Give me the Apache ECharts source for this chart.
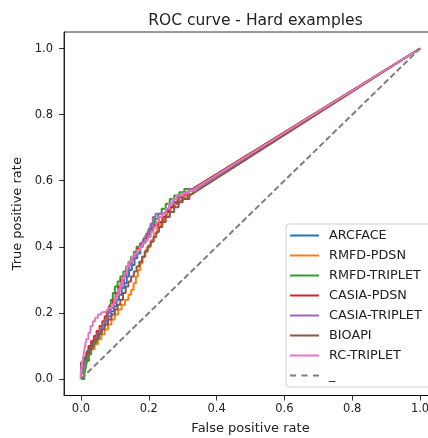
<!DOCTYPE html>
<html><head><meta charset="utf-8">
<script src="https://cdn.jsdelivr.net/npm/echarts@6/dist/echarts.min.js"></script>
<style>html,body{margin:0;padding:0;background:#fff;overflow:hidden;width:428px;height:438px}#c{width:446px;height:438px}</style>
</head><body><div id="c"></div>
<script>
const seriesNames = ['ARCFACE','RMFD-PDSN','RMFD-TRIPLET','CASIA-PDSN','CASIA-TRIPLET','BIOAPI','RC-TRIPLET','_'];
const tickValues = [0, 0.2, 0.4, 0.6, 0.8, 1.0];

const arcface = [[0,0],[0,0.02],[0.005,0.02],[0.005,0.045],[0.01,0.045],[0.01,0.065],[0.018,0.065],[0.018,0.085],[0.025,0.085],[0.025,0.1],[0.035,0.1],[0.035,0.115],[0.045,0.115],[0.045,0.13],[0.052,0.13],[0.052,0.145],[0.062,0.145],[0.062,0.16],[0.072,0.16],[0.072,0.175],[0.08,0.175],[0.08,0.19],[0.09,0.19],[0.09,0.205],[0.098,0.205],[0.098,0.22],[0.105,0.22],[0.105,0.24],[0.112,0.24],[0.112,0.255],[0.12,0.255],[0.12,0.275],[0.128,0.275],[0.128,0.29],[0.135,0.29],[0.135,0.31],[0.142,0.31],[0.142,0.33],[0.15,0.33],[0.15,0.345],[0.158,0.345],[0.158,0.365],[0.166,0.365],[0.166,0.38],[0.175,0.38],[0.175,0.4],[0.183,0.4],[0.183,0.415],[0.192,0.415],[0.192,0.43],[0.2,0.43],[0.2,0.445],[0.21,0.445],[0.21,0.46],[0.22,0.46],[0.22,0.475],[0.23,0.475],[0.23,0.49],[0.24,0.49],[0.24,0.5],[0.252,0.5],[0.252,0.51],[0.262,0.51],[0.262,0.52],[0.275,0.52],[0.275,0.53],[0.288,0.53],[0.288,0.54],[0.3,0.54],[0.3,0.55],[0.315,0.55],[0.315,0.56],[0.33,0.56],[0.33,0.57],[1,1]];
const rmfdPdsn = [[0,0],[0,0.015],[0.008,0.015],[0.008,0.035],[0.015,0.035],[0.015,0.055],[0.022,0.055],[0.022,0.075],[0.03,0.075],[0.03,0.09],[0.04,0.09],[0.04,0.105],[0.05,0.105],[0.05,0.12],[0.06,0.12],[0.06,0.135],[0.07,0.135],[0.07,0.15],[0.08,0.15],[0.08,0.165],[0.09,0.165],[0.09,0.18],[0.1,0.18],[0.1,0.195],[0.11,0.195],[0.11,0.21],[0.12,0.21],[0.12,0.225],[0.13,0.225],[0.13,0.24],[0.14,0.24],[0.14,0.255],[0.148,0.255],[0.148,0.27],[0.155,0.27],[0.155,0.29],[0.162,0.29],[0.162,0.31],[0.168,0.31],[0.168,0.33],[0.175,0.33],[0.175,0.35],[0.182,0.35],[0.182,0.37],[0.19,0.37],[0.19,0.39],[0.198,0.39],[0.198,0.405],[0.207,0.405],[0.207,0.42],[0.215,0.42],[0.215,0.44],[0.225,0.44],[0.225,0.46],[0.235,0.46],[0.235,0.475],[0.245,0.475],[0.245,0.49],[0.255,0.49],[0.255,0.505],[0.265,0.505],[0.265,0.52],[0.278,0.52],[0.278,0.535],[0.29,0.535],[0.29,0.55],[0.31,0.55],[0.31,0.56],[0.33,0.56],[0.33,0.575],[1,1]];
const rmfdTriplet = [[0,0],[0.01,0],[0.01,0.015],[0.014,0.015],[0.014,0.035],[0.018,0.035],[0.018,0.055],[0.024,0.055],[0.024,0.075],[0.03,0.075],[0.03,0.095],[0.038,0.095],[0.038,0.11],[0.046,0.11],[0.046,0.125],[0.054,0.125],[0.054,0.14],[0.062,0.14],[0.062,0.16],[0.07,0.16],[0.07,0.18],[0.076,0.18],[0.076,0.2],[0.082,0.2],[0.082,0.22],[0.088,0.22],[0.088,0.24],[0.094,0.24],[0.094,0.26],[0.1,0.26],[0.1,0.28],[0.108,0.28],[0.108,0.295],[0.116,0.295],[0.116,0.31],[0.125,0.31],[0.125,0.325],[0.133,0.325],[0.133,0.34],[0.14,0.34],[0.14,0.355],[0.148,0.355],[0.148,0.37],[0.156,0.37],[0.156,0.385],[0.164,0.385],[0.164,0.4],[0.175,0.4],[0.175,0.41],[0.185,0.41],[0.185,0.425],[0.193,0.425],[0.193,0.44],[0.2,0.44],[0.2,0.455],[0.208,0.455],[0.208,0.47],[0.218,0.47],[0.218,0.485],[0.228,0.485],[0.228,0.5],[0.238,0.5],[0.238,0.515],[0.25,0.515],[0.25,0.53],[0.262,0.53],[0.262,0.545],[0.275,0.545],[0.275,0.555],[0.29,0.555],[0.29,0.565],[0.305,0.565],[0.305,0.575],[0.33,0.575],[0.33,0.58],[1,1]];
const casiaPdsn = [[0,0],[0,0.015],[0.005,0.015],[0.005,0.04],[0.01,0.04],[0.01,0.06],[0.016,0.06],[0.016,0.08],[0.022,0.08],[0.022,0.1],[0.03,0.1],[0.03,0.115],[0.038,0.115],[0.038,0.13],[0.046,0.13],[0.046,0.145],[0.055,0.145],[0.055,0.16],[0.063,0.16],[0.063,0.175],[0.07,0.175],[0.07,0.19],[0.078,0.19],[0.078,0.21],[0.086,0.21],[0.086,0.225],[0.094,0.225],[0.094,0.24],[0.102,0.24],[0.102,0.26],[0.11,0.26],[0.11,0.28],[0.118,0.28],[0.118,0.3],[0.126,0.3],[0.126,0.315],[0.134,0.315],[0.134,0.33],[0.142,0.33],[0.142,0.35],[0.15,0.35],[0.15,0.365],[0.158,0.365],[0.158,0.38],[0.166,0.38],[0.166,0.395],[0.175,0.395],[0.175,0.41],[0.185,0.41],[0.185,0.425],[0.195,0.425],[0.195,0.44],[0.205,0.44],[0.205,0.455],[0.215,0.455],[0.215,0.465],[0.228,0.465],[0.228,0.475],[0.24,0.475],[0.24,0.49],[0.25,0.49],[0.25,0.505],[0.26,0.505],[0.26,0.52],[0.272,0.52],[0.272,0.535],[0.285,0.535],[0.285,0.55],[0.3,0.55],[0.3,0.56],[0.318,0.56],[0.318,0.57],[0.335,0.57],[0.335,0.578],[1,1]];
const casiaTriplet = [[0,0],[0,0.02],[0.006,0.02],[0.006,0.04],[0.012,0.04],[0.012,0.06],[0.018,0.06],[0.018,0.075],[0.025,0.075],[0.025,0.09],[0.032,0.09],[0.032,0.105],[0.04,0.105],[0.04,0.12],[0.048,0.12],[0.048,0.135],[0.056,0.135],[0.056,0.15],[0.064,0.15],[0.064,0.165],[0.072,0.165],[0.072,0.18],[0.08,0.18],[0.08,0.2],[0.088,0.2],[0.088,0.215],[0.096,0.215],[0.096,0.23],[0.104,0.23],[0.104,0.25],[0.112,0.25],[0.112,0.27],[0.12,0.27],[0.12,0.29],[0.127,0.29],[0.127,0.31],[0.134,0.31],[0.134,0.33],[0.142,0.33],[0.142,0.345],[0.15,0.345],[0.15,0.36],[0.158,0.36],[0.158,0.375],[0.166,0.375],[0.166,0.39],[0.174,0.39],[0.174,0.405],[0.182,0.405],[0.182,0.42],[0.19,0.42],[0.19,0.435],[0.198,0.435],[0.198,0.45],[0.205,0.45],[0.205,0.47],[0.212,0.47],[0.212,0.49],[0.22,0.49],[0.22,0.5],[0.24,0.5],[0.24,0.505],[0.252,0.505],[0.252,0.515],[0.262,0.515],[0.262,0.53],[0.275,0.53],[0.275,0.545],[0.29,0.545],[0.29,0.555],[0.305,0.555],[0.305,0.565],[0.32,0.565],[0.32,0.575],[0.338,0.575],[0.338,0.58],[1,1]];
const bioapi = [[0,0],[0,0.05],[0.008,0.05],[0.008,0.06],[0.016,0.06],[0.016,0.075],[0.024,0.075],[0.024,0.09],[0.032,0.09],[0.032,0.105],[0.04,0.105],[0.04,0.12],[0.05,0.12],[0.05,0.135],[0.06,0.135],[0.06,0.15],[0.07,0.15],[0.07,0.165],[0.08,0.165],[0.08,0.18],[0.09,0.18],[0.09,0.195],[0.1,0.195],[0.1,0.21],[0.108,0.21],[0.108,0.225],[0.116,0.225],[0.116,0.24],[0.124,0.24],[0.124,0.26],[0.132,0.26],[0.132,0.28],[0.14,0.28],[0.14,0.295],[0.148,0.295],[0.148,0.31],[0.156,0.31],[0.156,0.325],[0.164,0.325],[0.164,0.34],[0.172,0.34],[0.172,0.355],[0.18,0.355],[0.18,0.37],[0.188,0.37],[0.188,0.385],[0.196,0.385],[0.196,0.4],[0.205,0.4],[0.205,0.415],[0.214,0.415],[0.214,0.43],[0.222,0.43],[0.222,0.445],[0.23,0.445],[0.23,0.46],[0.24,0.46],[0.24,0.475],[0.25,0.475],[0.25,0.49],[0.262,0.49],[0.262,0.505],[0.275,0.505],[0.275,0.52],[0.288,0.52],[0.288,0.535],[0.3,0.535],[0.3,0.545],[0.32,0.545],[0.32,0.555],[1,1]];
const rcTriplet = [[0,0],[0,0.025],[0.004,0.025],[0.004,0.05],[0.008,0.05],[0.008,0.075],[0.012,0.075],[0.012,0.1],[0.016,0.1],[0.016,0.12],[0.022,0.12],[0.022,0.14],[0.028,0.14],[0.028,0.16],[0.035,0.16],[0.035,0.175],[0.042,0.175],[0.042,0.185],[0.05,0.185],[0.05,0.195],[0.06,0.195],[0.06,0.202],[0.07,0.202],[0.07,0.208],[0.08,0.208],[0.08,0.215],[0.09,0.215],[0.09,0.225],[0.098,0.225],[0.098,0.24],[0.104,0.24],[0.104,0.255],[0.11,0.255],[0.11,0.27],[0.116,0.27],[0.116,0.29],[0.122,0.29],[0.122,0.305],[0.128,0.305],[0.128,0.32],[0.135,0.32],[0.135,0.34],[0.142,0.34],[0.142,0.355],[0.15,0.355],[0.15,0.37],[0.158,0.37],[0.158,0.38],[0.166,0.38],[0.166,0.39],[0.174,0.39],[0.174,0.4],[0.182,0.4],[0.182,0.41],[0.19,0.41],[0.19,0.42],[0.198,0.42],[0.198,0.43],[0.206,0.43],[0.206,0.445],[0.214,0.445],[0.214,0.46],[0.222,0.46],[0.222,0.475],[0.23,0.475],[0.23,0.49],[0.24,0.49],[0.24,0.5],[0.25,0.5],[0.25,0.515],[0.26,0.515],[0.26,0.53],[0.27,0.53],[0.27,0.545],[0.282,0.545],[0.282,0.555],[0.3,0.555],[0.3,0.562],[0.318,0.562],[0.318,0.57],[0.338,0.57],[0.338,0.578],[1,1]];
const chance = [[0,0],[1,1]];

const seriesData = [arcface, rmfdPdsn, rmfdTriplet, casiaPdsn, casiaTriplet, bioapi, rcTriplet, chance];
const colors = ['#1f77b4','#ff7f0e','#2ca02c','#d62728','#9467bd','#8c564b','#e377c2','#7f7f7f'];
const solidIcon = 'path://M0,0H29V2H0Z';
const dashIcon = 'path://M0,0H6V2H0Z M11.5,0H17.5V2H11.5Z M23,0H29V2H23Z';

const FONT = 'DejaVu Sans';
const chart = echarts.init(document.getElementById('c'), null, {renderer:'canvas', width: 446, height: 438});
chart.setOption({
  animation: false,
  backgroundColor: '#fff',
  title: {
    text: 'ROC curve - Hard examples',
    left: 250.5, top: 8, textAlign: 'center',
    textStyle: {fontFamily: FONT, fontSize: 15.5, fontWeight: 'normal', color: '#222'}
  },
  grid: {left: 64, top: 32, width: 373, height: 363.5, outerBoundsMode: 'none', containLabel: false,
         show: true, borderColor: '#000', borderWidth: 0.8, backgroundColor: 'transparent'},
  legend: {
    orient: 'vertical', left: 286, top: 224,
    itemWidth: 29, itemHeight: 14, itemGap: 7,
    padding: [5, 24, 5, 4],
    backgroundColor: 'rgba(255,255,255,0.8)',
    borderColor: '#d0d0d0', borderWidth: 1, borderRadius: 3,
    symbolKeepAspect: true,
    textStyle: {fontFamily: FONT, fontSize: 12.8, color: '#222', padding: [0,0,0,5]},
    data: seriesNames.map((n, i) => ({name: n, icon: i === 7 ? dashIcon : solidIcon}))
  },
  xAxis: {
    type: 'value', min: -0.05, max: 1.05,
    name: 'False positive rate', nameLocation: 'middle', nameGap: 27,
    nameTextStyle: {fontFamily: FONT, fontSize: 13, color: '#222'},
    axisLine: {show: true, onZero: false, lineStyle: {color: '#000', width: 0.8}},
    axisTick: {show: true, length: 5, inside: false, customValues: tickValues, lineStyle: {color: '#000', width: 0.8}},
    axisLabel: {customValues: tickValues, margin: 8, fontFamily: FONT, fontSize: 11.5, color: '#222', formatter: v => v.toFixed(1)},
    splitLine: {show: false}
  },
  yAxis: {
    type: 'value', min: -0.05, max: 1.05,
    name: 'True positive rate', nameLocation: 'middle', nameGap: 39, nameRotate: 90,
    nameTextStyle: {fontFamily: FONT, fontSize: 13, color: '#222'},
    axisLine: {show: true, onZero: false, lineStyle: {color: '#000', width: 0.8}},
    axisTick: {show: true, length: 5, inside: false, customValues: tickValues, lineStyle: {color: '#000', width: 0.8}},
    axisLabel: {customValues: tickValues, margin: 11, fontFamily: FONT, fontSize: 11.5, color: '#222', formatter: v => v.toFixed(1)},
    splitLine: {show: false}
  },
  series: seriesNames.map((n, i) => ({
    name: n, type: 'line', data: seriesData[i],
    showSymbol: false, symbol: 'none', clip: true,
    itemStyle: {color: colors[i]},
    lineStyle: {color: colors[i], width: 2, type: i === 7 ? [6, 3] : 'solid'},
    z: 2 + i
  }))
});
</script></body></html>
